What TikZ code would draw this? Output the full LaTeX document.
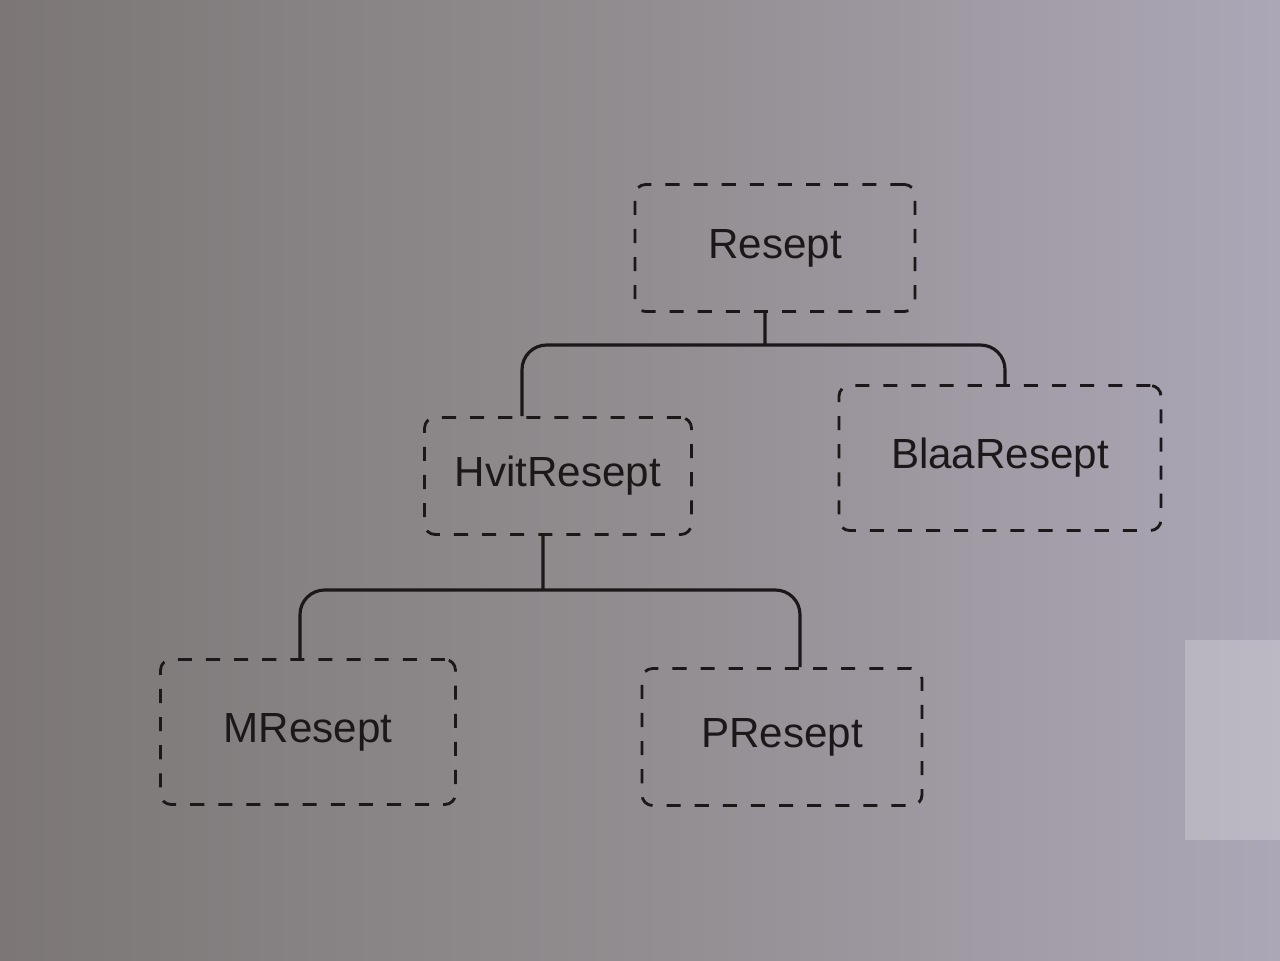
\documentclass[tikz,border=0pt]{standalone}
\usepackage{fontspec}
\setmainfont{Liberation Sans}
\usetikzlibrary{positioning,arrows.meta}
\definecolor{board}{RGB}{146,141,144}
\definecolor{boarddark}{RGB}{124,119,118}
\definecolor{boardlight}{RGB}{172,167,182}
\definecolor{ink}{RGB}{28,24,26}
\tikzset {>=Stealth,
  klasse/.style={draw=ink, line width=1.6pt, dash pattern=on 8pt off 8pt,
    rounded corners=6pt, text=ink, font=\fontsize{24}{28}\selectfont},
  link/.style={draw=ink, line width=1.8pt, rounded corners=14pt}}

\begin{document}
\begin{tikzpicture}[x=0.02cm,y=-0.02cm]
\useasboundingbox (0,0) rectangle (1280,960);
\shade[left color=boarddark, right color=boardlight, middle color=board]
  (0,0) rectangle (1280,960);
\fill[white, opacity=.2] (1185,640) rectangle (1280,840);
% klasser
\node[klasse, minimum width=5.6cm,  minimum height=2.54cm] (resept) at (775,248) {Resept};
\node[klasse, minimum width=5.34cm, minimum height=2.34cm] (hvit)   at (558,476) {HvitResept};
\node[klasse, minimum width=6.44cm, minimum height=2.9cm]  (blaa)   at (1000,458) {BlaaResept};
\node[klasse, minimum width=5.9cm,  minimum height=2.9cm]  (mres)   at (308,732) {MResept};
\node[klasse, minimum width=5.6cm,  minimum height=2.74cm] (pres)   at (782,737) {PResept};
% arv
\coordinate (bar1) at (765,345);
\coordinate (bar2) at (543,590);
\draw[link] ([xshift=-0.2cm]resept.south) -- (bar1);
\draw[link] ([xshift=-0.72cm]hvit.north) |- (bar1) -| ([xshift=0.1cm]blaa.north);
\draw[link] ([xshift=-0.3cm]hvit.south) -- (bar2);
\draw[link] ([xshift=-0.16cm]mres.north) |- (bar2) -| ([xshift=0.36cm]pres.north);
\end{tikzpicture}
\end{document}
